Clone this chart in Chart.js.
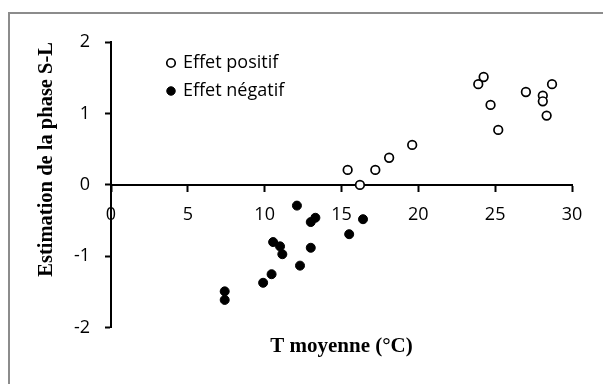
<!DOCTYPE html>
<html>
<head>
<meta charset="utf-8">
<script src="https://cdn.jsdelivr.net/npm/chart.js@4/dist/chart.umd.min.js"></script>
<style>
  body { margin: 0; background: #fff; overflow: hidden; }
  #wrap { position: relative; width: 603px; height: 384px; }
  #frame { position: absolute; left: 8px; top: 12px; width: 700px; height: 500px; border: 2px solid #8c8c8c; box-sizing: border-box; }
  canvas { position: absolute; left: 0; top: 0; }
</style>
</head>
<body>
<div id="wrap">
  <div id="frame"></div>
  <canvas id="myChart" width="603" height="384"></canvas>
</div>
<script>
// Effet positif (open circles)
const posT = [15.4, 16.2, 17.2, 18.1, 19.6, 23.9, 24.25, 24.7, 25.2, 27.0, 28.1, 28.1, 28.35, 28.7];
const posY = [0.21, 0.0, 0.21, 0.38, 0.56, 1.41, 1.51, 1.12, 0.77, 1.30, 1.25, 1.17, 0.97, 1.41];

// Effet négatif (filled circles)
const negT = [12.1, 13.0, 13.3, 16.4, 15.5, 10.55, 11.0, 11.15, 13.0, 12.3, 10.45, 9.9, 7.4, 7.4];
const negY = [-0.29, -0.52, -0.46, -0.48, -0.69, -0.80, -0.86, -0.97, -0.88, -1.13, -1.25, -1.37, -1.49, -1.61];

const xTicks = [0, 5, 10, 15, 20, 25, 30];
const yTicks = [-2, -1, 0, 1, 2];

const toPoints = (xs, ys) => xs.map((x, i) => ({ x: x, y: ys[i] }));

const tickFont = { family: "'Open Sans', 'Noto Sans', sans-serif", size: 18 };
const yTitleFont = { family: "'Liberation Serif', 'DejaVu Serif', serif", size: 20.5, weight: 'bold' };
const xTitleFont = { family: "'Liberation Serif', 'DejaVu Serif', serif", size: 21, weight: 'bold' };

// legend sits inside the plot; its top gets reset to 0 by the layout
const legendShift = {
    id: 'legendShift',
    afterLayout(chart) {
        chart.legend.left += 47;
        chart.legend.top += 44;
    }
};

const data = {
    datasets: [
        {
            label: 'Effet positif',
            data: toPoints(posT, posY),
            backgroundColor: '#ffffff',
            borderColor: '#000000',
            borderWidth: 1.7,
            pointRadius: 4.3,
            pointStyle: 'circle'
        },
        {
            label: 'Effet négatif',
            data: toPoints(negT, negY),
            backgroundColor: '#000000',
            borderColor: '#000000',
            borderWidth: 1,
            pointRadius: 4.5,
            pointStyle: 'circle'
        }
    ]
};

const config = {
    type: 'scatter',
    data,
    options: {
        responsive: false,
        animation: false,
        layout: { padding: { left: 30, top: 42, right: 31, bottom: 0 } },
        scales: {
            x: {
                type: 'linear',
                position: { y: 0 },
                min: 0,
                max: 30,
                afterBuildTicks: (axis) => { axis.ticks = xTicks.map(v => ({ value: v })); },
                ticks: { font: tickFont, color: '#000', padding: 13 },
                grid: { drawOnChartArea: false, tickLength: 6, tickColor: '#000', tickWidth: 2 },
                border: { color: '#000', width: 2 }
            },
            y: {
                min: -2,
                max: 2,
                afterBuildTicks: (axis) => { axis.ticks = yTicks.map(v => ({ value: v })); },
                afterFit: (axis) => { axis.width = 81; },
                ticks: { font: tickFont, color: '#000', padding: 15 },
                grid: { drawOnChartArea: false, tickLength: 6, tickColor: '#000', tickWidth: 2 },
                border: { color: '#000', width: 2 },
                title: {
                    display: true,
                    text: 'Estimation de la phase S-L',
                    font: yTitleFont,
                    color: '#000',
                    align: 'end',
                    padding: { top: 4, bottom: 0 }
                }
            }
        },
        plugins: {
            legend: {
                position: 'chartArea',
                align: 'start',
                labels: {
                    usePointStyle: true,
                    boxWidth: 6,
                    boxHeight: 6,
                    padding: 10,
                    color: '#000',
                    font: tickFont
                }
            },
            title: {
                display: true,
                position: 'bottom',
                fullSize: false,
                text: 'T moyenne (°C)',
                font: xTitleFont,
                color: '#000',
                padding: { top: 6, bottom: 25 }
            },
            tooltip: { enabled: false }
        }
    },
    plugins: [legendShift]
};

const myChart = new Chart(
    document.getElementById('myChart'),
    config
);
</script>
</body>
</html>
